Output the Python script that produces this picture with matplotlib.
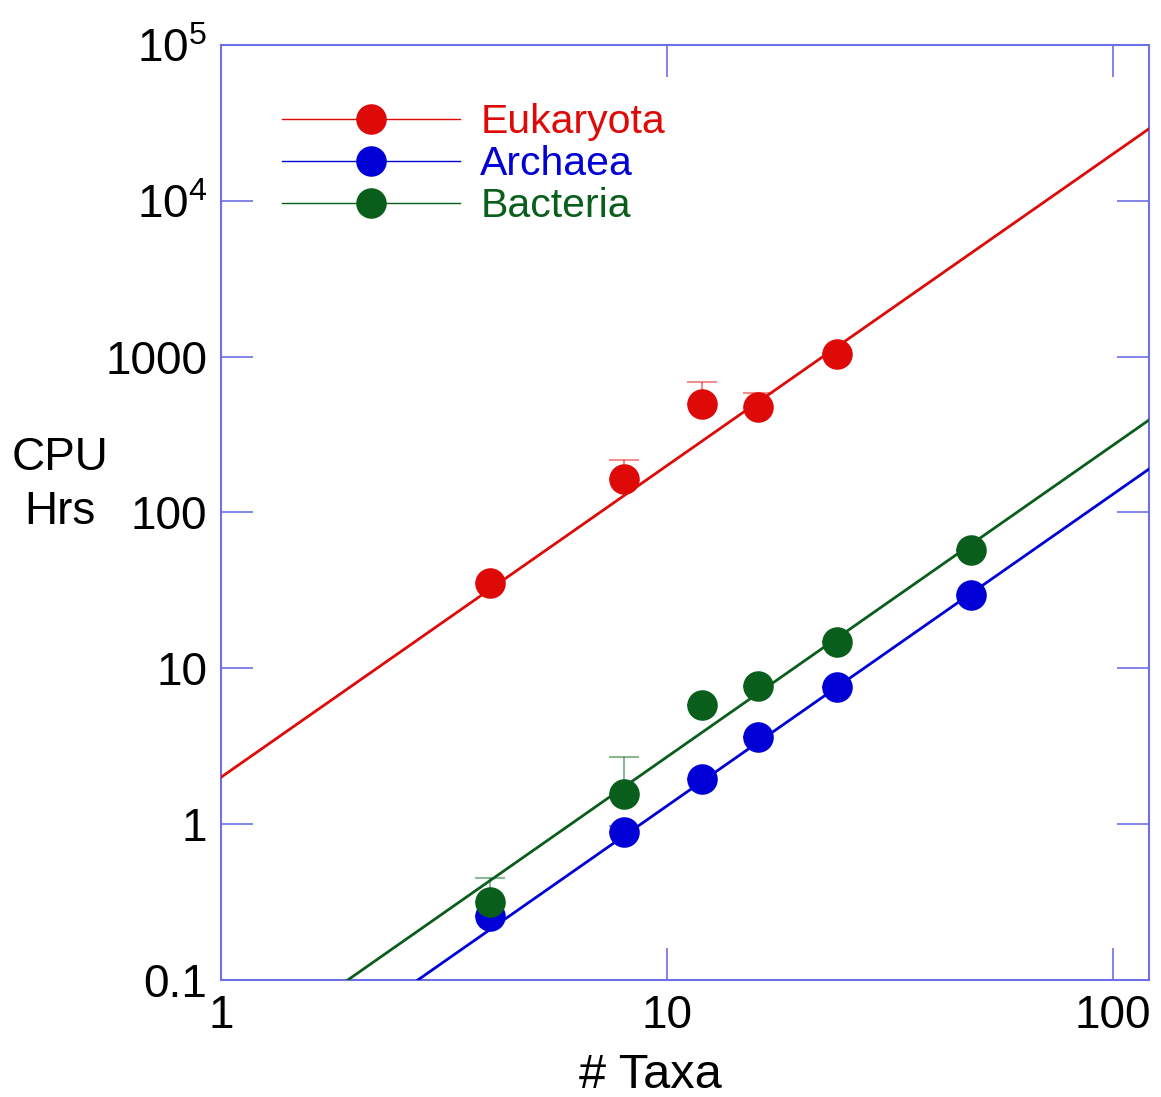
import matplotlib
matplotlib.use("Agg")
import matplotlib.pyplot as plt
import numpy as np

plt.rcParams['font.family'] = ['Liberation Sans', 'DejaVu Sans']
plt.rcParams['mathtext.fontset'] = 'custom'
plt.rcParams['mathtext.rm'] = 'Liberation Sans'
plt.rcParams['mathtext.default'] = 'regular'

# dados
taxa = [4, 8, 12, 16, 24, 48]
eukaryota = [35.2, 164, 497, 475, 1040]
eukaryota_err = [0, 53, 190, 109, 0]
archaea = [0.257, 0.889, 1.95, 3.61, 7.57, 29.5]
archaea_err = [0, 0.08, 0, 0, 0, 0]
bacteria = [0.315, 1.56, 5.81, 7.69, 14.7, 57.4]
bacteria_err = [0.135, 1.13, 0, 0, 0, 0]

# retas ajustadas (lei de potencia), pontos nas extremidades
fit_x = [1, 120.5]
eukaryota_fit = [2.0, 29000]
archaea_fit = [0.0131, 190]
bacteria_fit = [0.027, 392]

yticks = [0.1, 1, 10, 100, 1000, 1e4, 1e5]
ytick_labels = ['0.1', '1', '10', '100', '1000', r'$10^4$', r'$10^5$']
xticks = [1, 10, 100]
xtick_labels = ['1', '10', '100']

red = '#dd0a08'
blue = '#0000d6'
green = '#0a5e1c'
axcor = '#6f6fe6'

fig = plt.figure(figsize=(11.61, 10.97), dpi=100)
ax = fig.add_axes([0.1904, 0.1067, 0.7993, 0.8523])
ax.set_xscale('log')
ax.set_yscale('log')

series = [
    ('Eukaryota', taxa[:5], eukaryota, eukaryota_err, eukaryota_fit, red),
    ('Archaea', taxa, archaea, archaea_err, archaea_fit, blue),
    ('Bacteria', taxa, bacteria, bacteria_err, bacteria_fit, green),
]

handles = []
for nome, x, y, err, fit, cor in series:
    ax.errorbar(x, y, yerr=[np.zeros(len(err)), err], fmt='none', ecolor=cor,
                alpha=0.45, elinewidth=1.5, capsize=11, capthick=1.5, zorder=2)
    ax.plot(fit_x, fit, color=cor, lw=2, zorder=3)
    ax.plot(x, y, 'o', color=cor, ms=22, mec='none', zorder=4)
    # so para a legenda
    hh, = ax.plot([], [], '-o', color=cor, ms=22, mec='none', lw=1, label=nome)
    handles.append(hh)

leg = ax.legend(handles, [s[0] for s in series], loc='upper left',
                bbox_to_anchor=(0.0485, 0.9553), frameon=False, fontsize=29.5,
                handlelength=4.34, handletextpad=0.49, labelspacing=0.1,
                borderaxespad=0)
for txt, s in zip(leg.get_texts(), series):
    txt.set_color(s[5])

ax.set_xlim(1, 120.5)
ax.set_ylim(0.1, 1e5)
ax.set_xticks(xticks)
ax.set_xticklabels(xtick_labels)
ax.set_yticks(yticks)
ax.set_yticklabels(ytick_labels)
ax.minorticks_off()
ax.tick_params(axis='both', which='major', direction='in', length=23, width=1.2,
               color=axcor, top=True, right=True, labelsize=33)
ax.tick_params(axis='x', pad=10)
ax.tick_params(axis='y', pad=10)
for s in ax.spines.values():
    s.set_color(axcor)
    s.set_linewidth(1.5)

fig.text(650 / 1161, 1 - 1075 / 1097, '# Taxa', fontsize=35, ha='center', va='center')
fig.text(0.052, 0.558, 'CPU\nHrs', fontsize=33, ha='center', va='center',
         linespacing=1.3)

plt.savefig('out.png', dpi=100)
